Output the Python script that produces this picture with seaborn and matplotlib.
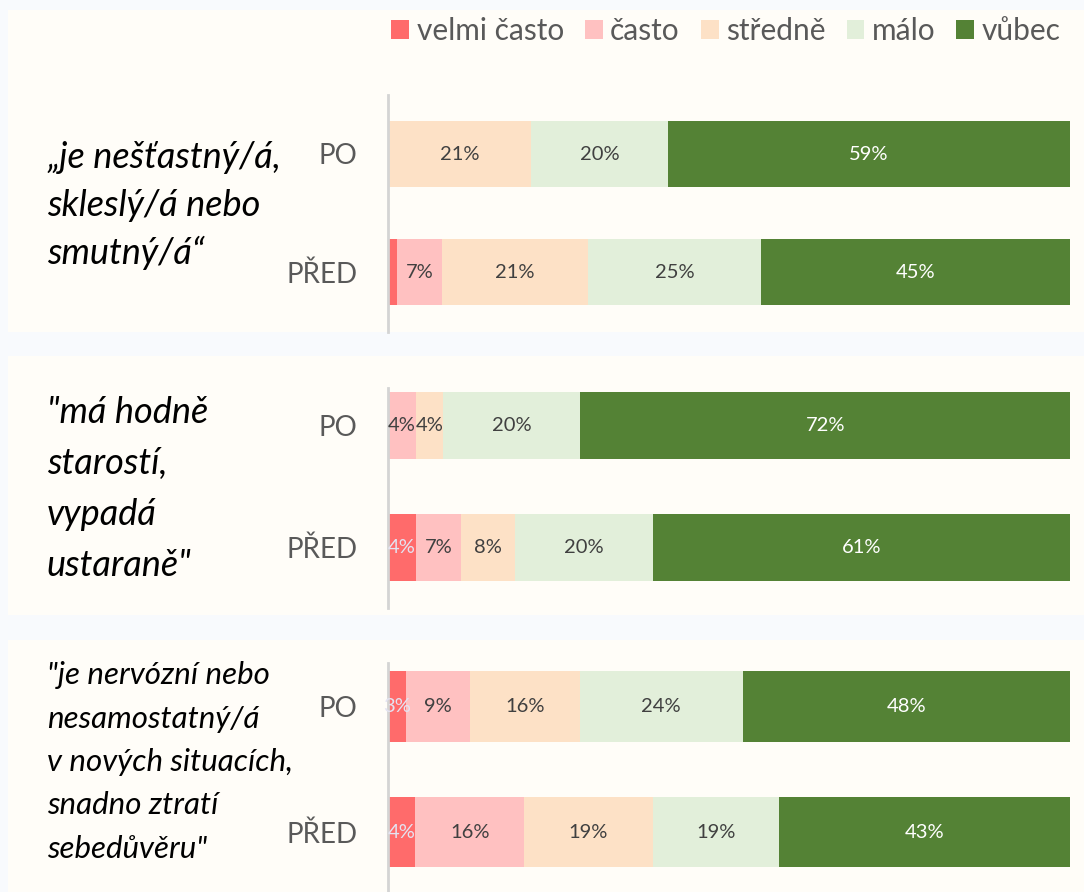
import numpy as np
import pandas as pd
import seaborn as sns
import matplotlib
matplotlib.use('Agg')
import matplotlib.pyplot as plt
from matplotlib.patches import Rectangle, Patch

# --- data ---
categories = ["velmi často", "často", "středně", "málo", "vůbec"]
times = ["PO", "PŘED"]

statement_1 = ["„je nešťastný/á,", "skleslý/á nebo", "smutný/á“"]
statement_2 = ["\"má hodně", "starostí,", "vypadá", "ustaraně\""]
statement_3 = ["\"je nervózní nebo", "nesamostatný/á", "v nových situacích,",
               "snadno ztratí", "sebedůvěru\""]

q1_po = [0, 0, 21, 20, 59]
q1_pred = [1.3, 6.6, 21.4, 25.4, 45.3]
q2_po = [0, 4.1, 4.0, 20.1, 71.8]
q2_pred = [4.1, 6.6, 7.9, 20.2, 61.2]
q3_po = [2.6, 9.4, 16.1, 23.9, 48.0]
q3_pred = [4.0, 16.0, 18.8, 18.6, 42.6]

colors = ["#FF6B6B", "#FFC1C1", "#FDE1C6", "#E2EFDA", "#548235"]
label_colors = ["#E4E4F2", "#404040", "#404040", "#404040", "#FFFFFF"]

W, H = 1084, 892
BG = "#F8FAFD"
PANEL = "#FFFDF8"


def fx(px):
    return px / W


def fy(py):
    return 1 - py / H


sns.set_theme(style="white")
plt.rcParams['font.family'] = ['Lato', 'DejaVu Sans']

fig = plt.figure(figsize=(W / 100, H / 100), dpi=100)
fig.patch.set_facecolor(BG)

# panel backgrounds (top, bottom in pixels)
panel_boxes = [(10, 332), (356, 615), (640, 892)]
for top, bottom in panel_boxes:
    fig.patches.append(Rectangle((fx(8), fy(bottom)), fx(W - 8), (bottom - top) / H,
                                 transform=fig.transFigure, facecolor=PANEL,
                                 edgecolor='none', zorder=-5))

# axes layout: axis top/bottom px, PO centre px, PŘED centre px, bar height
panels = [
    dict(po=q1_po, pred=q1_pred, text=statement_1, top=95, bottom=332,
         c0=154, c1=272, bw=0.56, fs=26, lsp=47.5, tcy=205),
    dict(po=q2_po, pred=q2_pred, text=statement_2, top=388, bottom=608,
         c0=425.5, c1=547.5, bw=0.55, fs=26, lsp=51, tcy=489),
    dict(po=q3_po, pred=q3_pred, text=statement_3, top=663, bottom=892,
         c0=706.5, c1=832, bw=0.56, fs=22.5, lsp=43.3, tcy=762),
]

x0, x1 = 388, 1070
for p in panels:
    ax = fig.add_axes([fx(x0), fy(p['bottom']), (x1 - x0) / W, (p['bottom'] - p['top']) / H])
    ax.set_facecolor('none')
    ax.set_zorder(2)
    vals = np.array([p['po'], p['pred']])
    cum = vals.cumsum(axis=1)
    # overlay cumulative bars from the last category to the first
    for k in range(len(categories) - 1, -1, -1):
        sns.barplot(x=cum[:, k], y=times, color=colors[k], saturation=1,
                    width=p['bw'], orient='h', ax=ax, linewidth=0)
    for i in range(len(times)):
        for k in range(len(categories)):
            v = vals[i, k]
            if v >= 2:
                ax.text(cum[i, k] - v / 2, i, f"{round(v):.0f}%", ha='center', va='center',
                        fontsize=14.5, color=label_colors[k])
    spacing = p['c1'] - p['c0']
    ax.set_ylim(1 + (p['bottom'] - p['c1']) / spacing, -(p['c0'] - p['top']) / spacing)
    ax.set_xlim(0, 100)
    ax.set_xticks([])
    ax.set_xlabel('')
    ax.set_ylabel('')
    ax.tick_params(axis='y', length=0, pad=22, labelsize=20, labelcolor='#595959')
    for s in ['top', 'right', 'bottom']:
        ax.spines[s].set_visible(False)
    ax.spines['left'].set_color('#D4D4D4')
    ax.spines['left'].set_linewidth(2)

    # statement text, left column
    n = len(p['text'])
    for j, line in enumerate(p['text']):
        yy = p['tcy'] + (j - (n - 1) / 2) * p['lsp']
        fig.text(fx(47), fy(yy), line, ha='left', va='center', fontsize=p['fs'],
                 style='italic', color='black')

handles = [Patch(facecolor=c, edgecolor='none', label=l) for c, l in zip(colors, categories)]
leg = fig.legend(handles=handles, loc='center', bbox_to_anchor=(fx(726), fy(31)), ncol=5,
                 frameon=False, fontsize=21.5, handlelength=0.6, handleheight=0.6,
                 handletextpad=0.25, columnspacing=0.7)
for t in leg.get_texts():
    t.set_color('#595959')

fig.savefig('out.png', dpi=100, facecolor=fig.get_facecolor())
